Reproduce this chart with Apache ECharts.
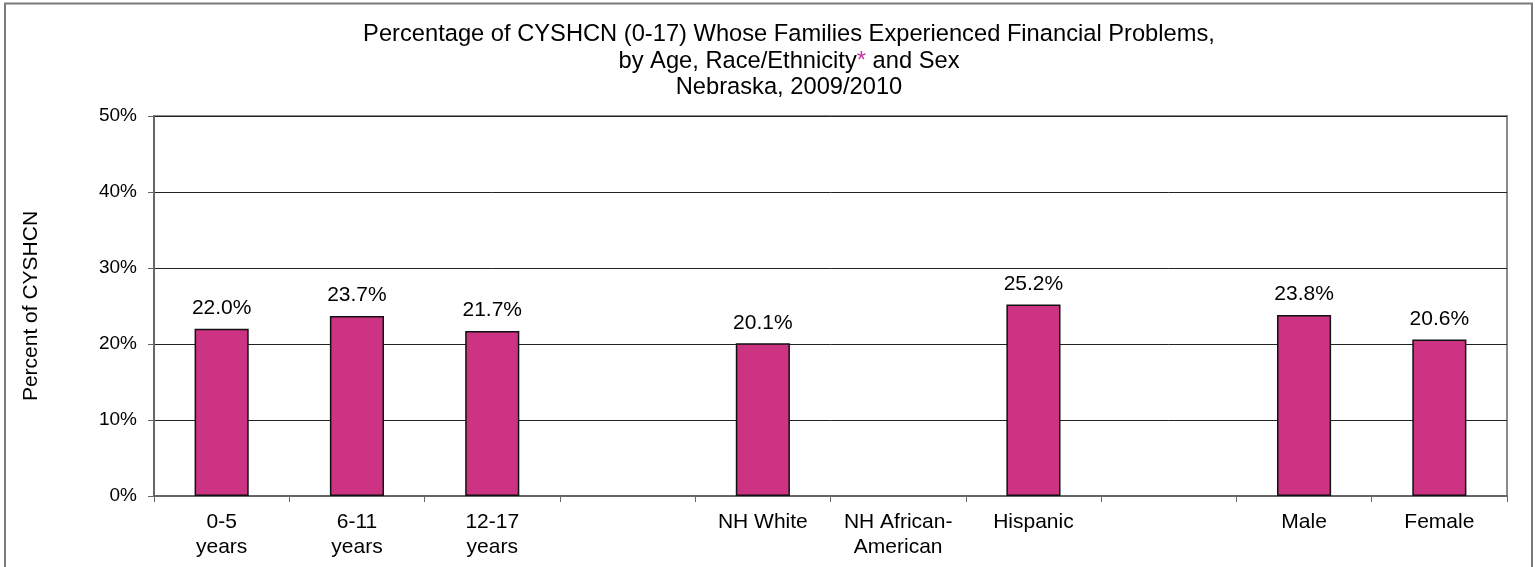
<!DOCTYPE html>
<html>
<head>
<meta charset="utf-8">
<script src="https://cdn.jsdelivr.net/npm/echarts@6/dist/echarts.min.js"></script>
<style>
html,body{margin:0;padding:0;background:#fff;}
#chart{width:1538px;height:567px;}
</style>
</head>
<body>
<div id="chart"></div>
<script>
const categories = ['0-5\nyears', '6-11\nyears', '12-17\nyears', '', 'NH White', 'NH African-\nAmerican', 'Hispanic', '', 'Male', 'Female'];
const values = [22.0, 23.7, 21.7, null, 20.1, null, 25.2, null, 23.8, 20.6];
const yTicks = [0, 10, 20, 30, 40, 50];

const FONT = "'Liberation Sans', Arial, sans-serif";
const chart = echarts.init(document.getElementById('chart'), null, {renderer: 'canvas'});
chart.setOption({
  animation: false,
  backgroundColor: '#fff',
  textStyle: {fontFamily: FONT},
  graphic: [{
    type: 'rect', z: 100, silent: true,
    shape: {x: 5, y: 3.5, width: 1527, height: 600},
    style: {fill: 'none', stroke: '#7a7a7a', lineWidth: 2}
  }],
  title: {
    left: 784, top: 16.5, textAlign: 'center',
    text: '{a|Percentage of CYSHCN (0-17) Whose Families Experienced Financial Problems,}\n{a|by Age, Race/Ethnicity}{s|*}{a| and Sex}\n{a|Nebraska, 2009/2010}',
    textStyle: {
      fontFamily: FONT, fontWeight: 'normal', fontSize: 23.7, lineHeight: 26.5, color: '#000',
      rich: {
        a: {fontFamily: FONT, fontSize: 23.7, lineHeight: 26.5, color: '#000'},
        s: {fontFamily: FONT, fontSize: 23.7, lineHeight: 26.5, color: '#CC3399'}
      }
    }
  },
  grid: {left: 154, right: 31, top: 116, bottom: 71, show: true, borderColor: '#8a8a8a', borderWidth: 2, containLabel: false},
  xAxis: {
    type: 'category', data: categories,
    axisLine: {lineStyle: {color: '#666', width: 2}},
    axisTick: {show: true, length: 6, lineStyle: {color: '#666', width: 1}},
    axisLabel: {fontFamily: FONT, fontSize: 21, color: '#000', lineHeight: 25, margin: 14, interval: 0}
  },
  yAxis: {
    type: 'value', min: yTicks[0], max: yTicks[yTicks.length - 1], interval: 10,
    name: 'Percent of CYSHCN', nameLocation: 'middle', nameRotate: 90, nameGap: 112,
    nameTextStyle: {fontFamily: FONT, fontSize: 21, color: '#000'},
    axisLine: {show: true, lineStyle: {color: '#666', width: 2}},
    axisTick: {show: true, length: 6, lineStyle: {color: '#666', width: 1}},
    axisLabel: {fontFamily: FONT, fontSize: 19, color: '#000', margin: 17, formatter: v => v + '%'},
    splitLine: {show: true, lineStyle: {color: '#222', width: 1}}
  },
  series: [{
    type: 'bar', data: values, barWidth: '40%',
    itemStyle: {color: '#CC3383', borderColor: '#111', borderWidth: 1.5},
    label: {show: true, position: 'top', distance: 10, fontFamily: FONT, fontSize: 21, color: '#000',
      formatter: p => p.value == null ? '' : p.value.toFixed(1) + '%'}
  }]
});
</script>
</body>
</html>
